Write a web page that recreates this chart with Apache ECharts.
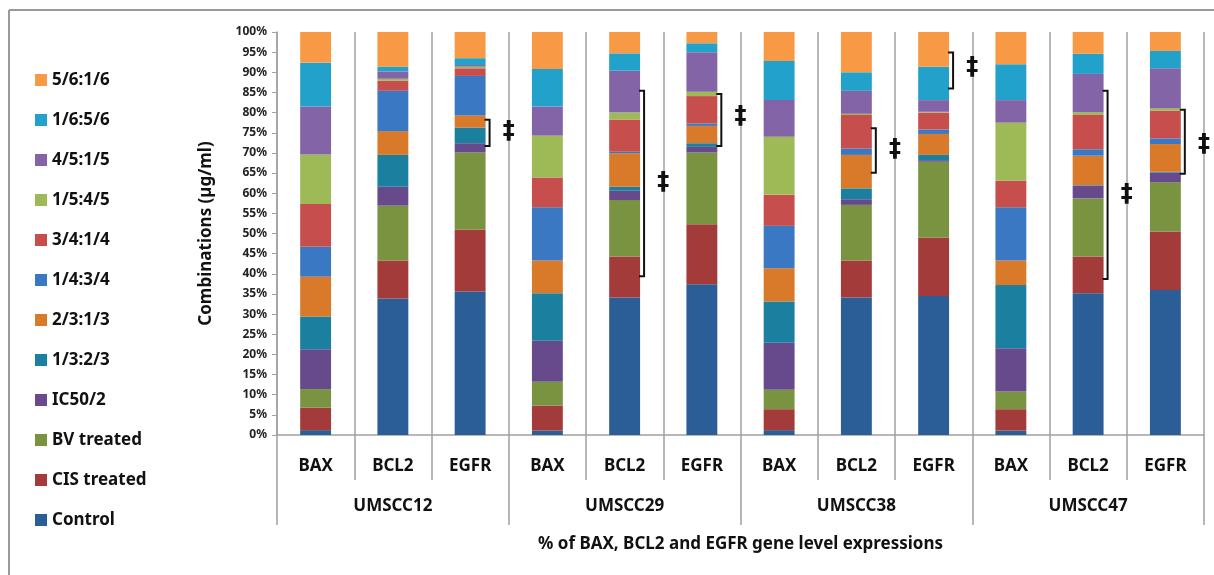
<!DOCTYPE html>
<html>
<head>
<meta charset="utf-8">
<script src="https://cdn.jsdelivr.net/npm/echarts@6/dist/echarts.min.js"></script>
<style>
html,body{margin:0;padding:0;background:#fff;}
#chart{width:1214px;height:575px;}
</style>
</head>
<body>
<div id="chart"></div>
<script>
const categories = ['BAX','BCL2','EGFR','BAX','BCL2','EGFR','BAX','BCL2','EGFR','BAX','BCL2','EGFR'];
const groups = ['UMSCC12','UMSCC29','UMSCC38','UMSCC47'];
const seriesNames = ['Control','CIS treated','BV treated','IC50/2','1/3:2/3','2/3:1/3','1/4:3/4','3/4:1/4','1/5:4/5','4/5:1/5','1/6:5/6','5/6:1/6'];
const colors = ['#2B5D97','#A33B3A','#7A9340','#664A8B','#1B7FA0','#D97A2B','#3A78C4','#C64F4D','#9EBA56','#8264A7','#22A1CB','#F89A45'];

const control   = [1.2, 33.9, 35.6, 1.1, 34.1, 37.4, 1.2, 34.1, 34.5, 1.1, 35.2, 36.0];
const cis       = [5.6,  9.4, 15.3, 6.2, 10.2, 14.9, 5.2,  9.2, 14.5, 5.3,  9.1, 14.5];
const bv        = [4.6, 13.6, 19.2, 5.9, 14.0, 17.8, 4.8, 13.8, 18.8, 4.4, 14.4, 12.2];
const ic50      = [9.9,  4.7,  2.3, 10.2, 2.3,  1.4, 11.7, 1.4,  0.4, 10.7, 3.2,  2.4];
const r1_3      = [8.1,  7.9,  3.9, 11.8, 1.0,  0.9, 10.2, 2.7,  1.3, 15.7, 0.1,  0.2];
const r2_3      = [9.9,  5.9,  3.0, 8.1,  8.3,  4.3, 8.3,  8.3,  5.2, 6.1,  7.3,  6.9];
const r1_4      = [7.4, 10.0,  9.8, 13.2, 0.4,  0.6, 10.5, 1.6,  1.1, 13.2, 1.6,  1.4];
const r3_4      = [10.6, 2.5,  1.9, 7.4,  8.0,  6.8, 7.7,  8.3,  4.2, 6.6,  8.5,  6.9];
const r1_5      = [12.3, 0.5,  0.4, 10.4, 1.7,  1.1, 14.4, 0.3,  0.2, 14.4, 0.7,  0.6];
const r4_5      = [11.9, 1.8,  0.4, 7.2, 10.4,  9.8, 9.1,  5.7,  2.9, 5.6,  9.5,  9.9];
const r1_6      = [10.9, 1.2,  1.7, 9.3,  4.3,  2.2, 9.7,  4.6,  8.3, 8.9,  5.0,  4.3];
const r5_6      = [7.6,  8.6,  6.5, 9.2,  5.3,  2.8, 7.2, 10.0,  8.6, 8.0,  5.4,  4.7];
const values = [control, cis, bv, ic50, r1_3, r2_3, r1_4, r3_4, r1_5, r4_5, r1_6, r5_6];

// significance brackets: [category index, top %, bottom %, dagger y %]
const brackets = [
  [2, 78.2, 71.7, 75.2],
  [4, 85.4, 39.4, 62.5],
  [5, 84.6, 71.7, 78.9],
  [7, 76.1, 65.1, 70.7],
  [8, 94.9, 86.0, 91.1],
  [10, 85.4, 38.7, 59.6],
  [11, 80.7, 64.8, 72.0]
];

const FONT = '"Noto Sans"';
const chart = echarts.init(document.getElementById('chart'));

const barSeries = seriesNames.map((n, i) => ({
  name: n,
  type: 'bar',
  stack: 'total',
  barWidth: '40%',
  itemStyle: { color: colors[i] },
  data: values[i],
  animation: false
}));

const bracketSeries = {
  type: 'custom',
  xAxisIndex: 0,
  yAxisIndex: 0,
  data: brackets,
  encode: { x: 0, y: [1, 2, 3] },
  z: 10,
  animation: false,
  silent: true,
  renderItem: function (params, api) {
    const idx = api.value(0);
    const pTop = api.coord([idx, api.value(1)]);
    const pBot = api.coord([idx, api.value(2)]);
    const pDag = api.coord([idx, api.value(3)]);
    const bandW = api.size([1, 0])[0];
    const xl = pTop[0] + bandW * 0.2 + 4;
    const xb = pTop[0] + bandW / 2;
    return {
      type: 'group',
      children: [
        {
          type: 'polyline',
          shape: { points: [[xl - 5, pTop[1]], [xl, pTop[1]], [xl, pBot[1]], [xl - 5, pBot[1]]] },
          style: { stroke: '#111', lineWidth: 2, fill: null }
        },
        {
          type: 'text',
          x: xb, y: pDag[1],
          style: { text: '‡', fill: '#111', font: 'bold 24px "DejaVu Sans"', align: 'center', verticalAlign: 'middle' }
        }
      ]
    };
  }
};

const option = {
  animation: false,
  backgroundColor: '#fff',
  grid: { left: 277, right: 10, top: 32, bottom: 140 },
  legend: {
    orient: 'vertical',
    left: 30,
    top: 65,
    itemWidth: 12,
    itemHeight: 12,
    itemGap: 20,
    icon: 'rect',
    data: seriesNames.slice().reverse(),
    textStyle: { fontFamily: FONT, fontWeight: 'bold', fontSize: 17, color: '#111', lineHeight: 20 }
  },
  xAxis: [
    {
      type: 'category',
      data: categories,
      position: 'bottom',
      axisLine: { lineStyle: { color: '#A0A0A0', width: 1.5 } },
      axisTick: { show: true, interval: 0, length: 45, lineStyle: { color: '#A0A0A0', width: 1.5 } },
      axisLabel: { interval: 0, margin: 23, fontFamily: FONT, fontWeight: 'bold', fontSize: 17, color: '#111' },
      splitLine: { show: true, interval: 0, lineStyle: { color: '#A0A0A0', width: 1.5 } }
    },
    {
      type: 'category',
      data: groups,
      position: 'bottom',
      axisLine: { show: false },
      axisTick: { show: true, interval: 0, length: 90, lineStyle: { color: '#A0A0A0', width: 1.5 } },
      axisLabel: { interval: 0, margin: 63, fontFamily: FONT, fontWeight: 'bold', fontSize: 17, color: '#111' },
      splitLine: { show: false },
      name: '% of BAX, BCL2 and EGFR gene level expressions',
      nameLocation: 'middle',
      nameGap: 101,
      nameTextStyle: { fontFamily: FONT, fontWeight: 'bold', fontSize: 17, color: '#111' }
    }
  ],
  yAxis: {
    type: 'value',
    min: 0,
    max: 100,
    interval: 5,
    axisLine: { show: true, lineStyle: { color: '#A0A0A0', width: 1.5 } },
    axisTick: { show: true, length: 5, lineStyle: { color: '#A0A0A0' } },
    splitLine: { show: false },
    axisLabel: { formatter: '{value}%', margin: 10, fontFamily: FONT, fontWeight: 'bold', fontSize: 12, color: '#222' },
    name: 'Combinations (µg/ml)',
    nameLocation: 'middle',
    nameRotate: 90,
    nameGap: 62,
    nameTextStyle: { fontFamily: FONT, fontWeight: 'bold', fontSize: 17, color: '#111' }
  },
  graphic: [
    { type: 'line', shape: { x1: 9, y1: 10, x2: 1214, y2: 10 }, style: { stroke: '#999', lineWidth: 2 } },
    { type: 'line', shape: { x1: 9, y1: 10, x2: 9, y2: 575 }, style: { stroke: '#999', lineWidth: 2 } }
  ],
  series: barSeries.concat([bracketSeries])
};
chart.setOption(option);
</script>
</body>
</html>
